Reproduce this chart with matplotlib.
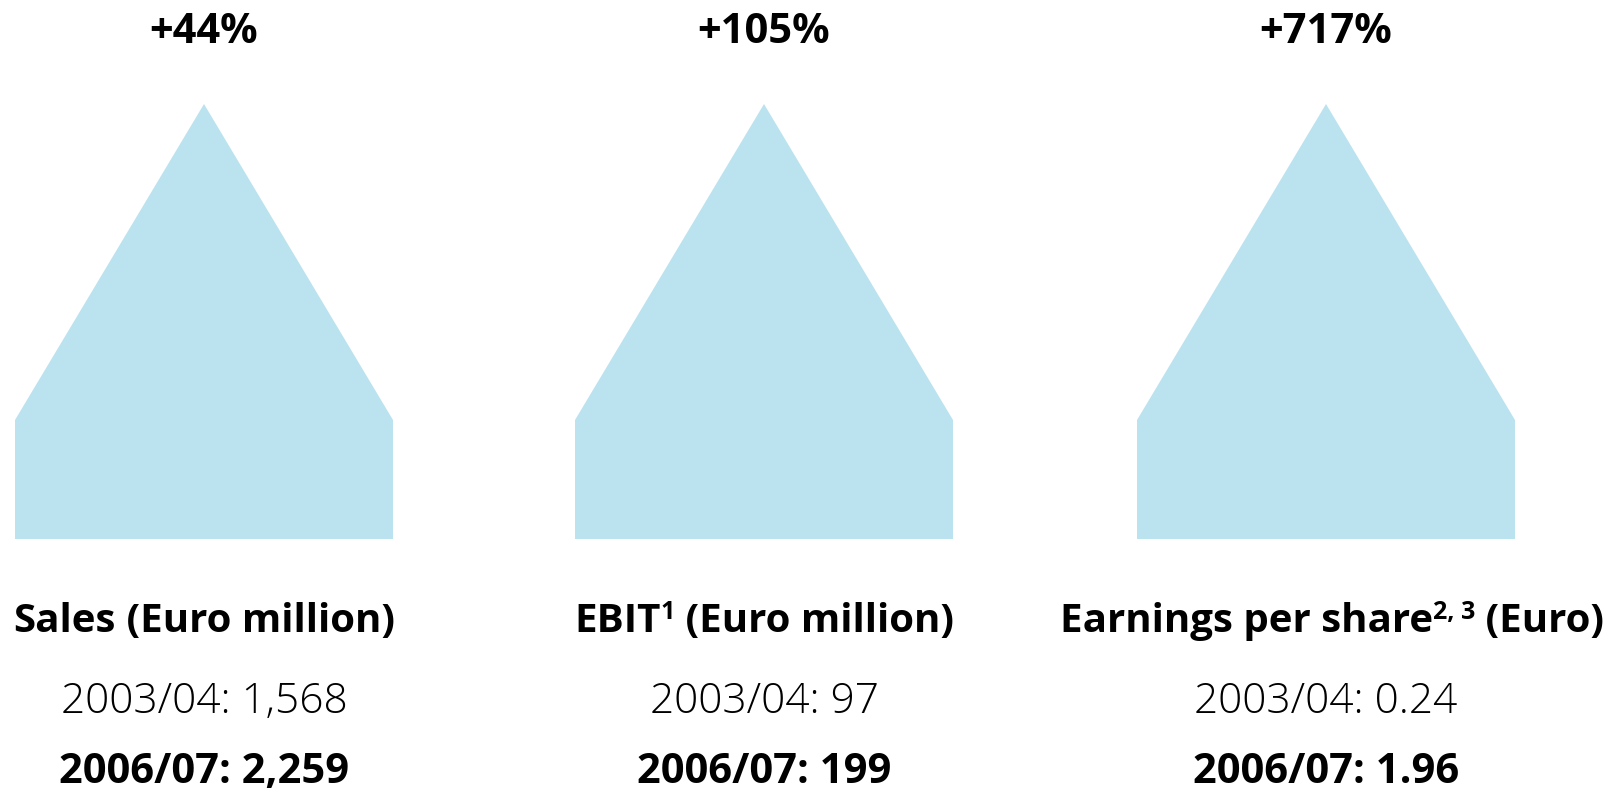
import matplotlib
matplotlib.use("Agg")
import matplotlib.pyplot as plt
from matplotlib.patches import Polygon
from matplotlib import font_manager

# data
metrics = ["Sales", "EBIT", "Earnings per share"]
notes = ["", "1", "2, 3"]
units = ["(Euro million)", "(Euro million)", "(Euro)"]
growth = ["+44%", "+105%", "+717%"]
value_0304 = ["1,568", "97", "0.24"]
value_0607 = ["2,259", "199", "1.96"]

FILL = "#bbe3ef"
FONT = "Open Sans"

# pick a light face (300) if one is installed, Open Sans / Noto first
light_family, light_weight = FONT, "normal"
found = False
for fam in ("Open Sans", "Noto Sans", "Lato"):
    for f in font_manager.fontManager.ttflist:
        if f.name == fam and f.weight == 300 and f.style == "normal":
            light_family, light_weight = fam, 300
            found = True
            break
    if found:
        break

fig = plt.figure(figsize=(16.19, 8.01), dpi=100)
ax = fig.add_axes([0, 0, 1, 1])
ax.set_xlim(0, 1619)
ax.set_ylim(801, 0)
ax.axis("off")

lefts = [15, 575, 1137]
width = 378
apex_y, shoulder_y, base_y = 104, 420, 539

fig.canvas.draw()
r = fig.canvas.get_renderer()

def rich(xc, y, parts):
    # parts: (text, size, weight, rise)
    items = []
    total = 0
    for s, size, w, rise in parts:
        t = ax.text(0, y, s, fontsize=size, fontweight=w, family=FONT,
                    ha="left", va="baseline", color="black")
        wd = t.get_window_extent(r).width
        items.append((t, wd, rise))
        total += wd
    x = xc - total / 2
    for t, wd, rise in items:
        t.set_position((x, y - rise))
        x += wd

for i in range(3):
    x0 = lefts[i]
    x1 = x0 + width
    xm = (x0 + x1) / 2
    poly = Polygon([(x0, base_y), (x0, shoulder_y), (xm, apex_y), (x1, shoulder_y), (x1, base_y)],
                   closed=True, facecolor=FILL, edgecolor="none")
    ax.add_patch(poly)

    ax.text(xm, 43, growth[i], fontsize=30, fontweight="bold", family=FONT,
            ha="center", va="baseline")

    parts = [(metrics[i], 29, "bold", 0)]
    if notes[i]:
        parts.append((notes[i], 18, "bold", 13))
    parts.append((" " + units[i], 29, "bold", 0))
    rich(xm + (6 if i == 2 else 0), 632, parts)

    ax.text(xm, 713, "2003/04: " + value_0304[i], fontsize=30.5, fontweight=light_weight,
            family=light_family, ha="center", va="baseline")
    ax.text(xm, 783, "2006/07: " + value_0607[i], fontsize=30, fontweight="bold", family=FONT,
            ha="center", va="baseline")

fig.savefig("out.png", dpi=100)
